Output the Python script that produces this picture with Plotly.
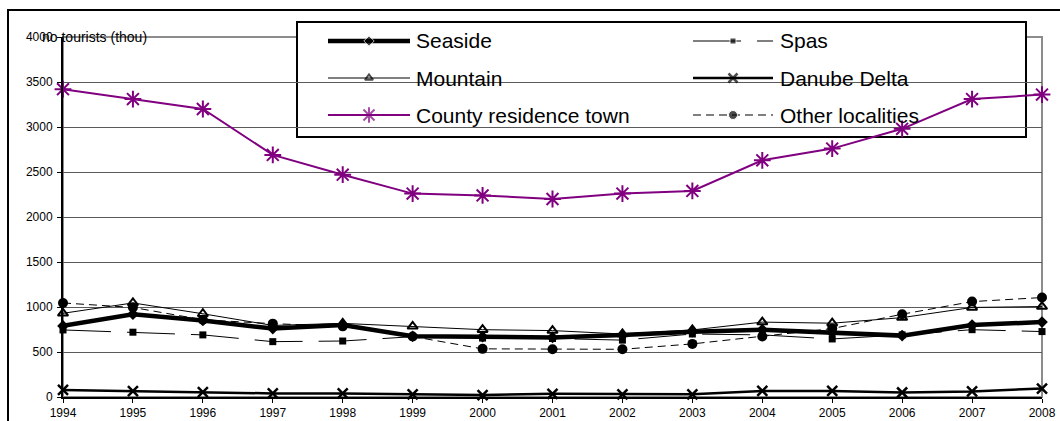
import plotly.graph_objects as go

years = list(range(1994, 2009))
year_labels = [str(y) for y in years]

seaside = [790, 920, 850, 760, 800, 675, 670, 662, 688, 725, 748, 715, 682, 800, 832]
spas = [745, 720, 690, 615, 622, 670, 655, 650, 632, 700, 690, 645, 690, 748, 727]
mountain = [930, 1045, 925, 795, 818, 785, 748, 738, 700, 745, 832, 820, 882, 995, 1005]
danube = [78, 66, 54, 40, 40, 28, 22, 36, 30, 30, 68, 68, 50, 62, 94]
county = [3420, 3310, 3200, 2690, 2470, 2260, 2240, 2200, 2260, 2290, 2630, 2760, 2980, 3310, 3360]
other = [1045, 995, 858, 815, 785, 672, 535, 530, 530, 590, 672, 760, 920, 1060, 1105]

series_names = ["Seaside", "Spas", "Mountain", "Danube Delta", "County residence town", "Other localities"]

FONT = "Arial, Liberation Sans, sans-serif"
PURPLE = "#800080"

styles = {
    "Seaside": dict(line=dict(color="black", width=4.5), marker=dict(symbol="diamond", size=9, color="black")),
    "Spas": dict(line=dict(color="black", width=1, dash="48px,16px"), marker=dict(symbol="square", size=7, color="black")),
    "Mountain": dict(line=dict(color="black", width=1), marker=dict(symbol="triangle-up-open", size=9, color="black", line=dict(width=2, color="black"))),
    "Danube Delta": dict(line=dict(color="black", width=2.5), marker=dict(symbol="x-thin-open", size=10, color="black", line=dict(width=2.5, color="black"))),
    "County residence town": dict(line=dict(color=PURPLE, width=2), marker=dict(symbol="asterisk-open", size=14, color=PURPLE, line=dict(width=2, color=PURPLE))),
    "Other localities": dict(line=dict(color="black", width=1, dash="8px,5px"), marker=dict(symbol="circle", size=10, color="black")),
}
values = {
    "Seaside": seaside, "Spas": spas, "Mountain": mountain,
    "Danube Delta": danube, "County residence town": county, "Other localities": other,
}

fig = go.Figure()
draw_order = ["Danube Delta", "Spas", "Mountain", "Other localities", "Seaside", "County residence town"]
for name in draw_order:
    st = styles[name]
    fig.add_trace(go.Scatter(x=years, y=values[name], name=name, mode="lines+markers",
                             line=st["line"], marker=st["marker"], cliponaxis=False,
                             showlegend=False))

# Pixel geometry of the plot area
L, R, T, B = 63, 1042, 37, 397
W, H = 1060, 421

def px_x(p):
    return (p - L) / (R - L)

def px_y(p):
    return (B - p) / (B - T)

# Manual legend (two columns, three rows) drawn on an overlay pixel axis
leg_cols = [(328, 369, 410, 414), (693, 733, 773, 778)]
leg_rows = [41, 78, 115]
legend_marker_size = {"Seaside": 8, "Spas": 6, "Mountain": 7, "Danube Delta": 9,
                      "County residence town": 13, "Other localities": 9}
for i, name in enumerate(series_names):
    c = leg_cols[i % 2]
    ry = leg_rows[i // 2]
    st = styles[name]
    mk = dict(st["marker"])
    mk["size"] = [0, legend_marker_size[name], 0]
    fig.add_trace(go.Scatter(x=[c[0], c[1], c[2]], y=[ry, ry, ry], mode="lines+markers",
                             line=st["line"], marker=mk, xaxis="x2", yaxis="y2",
                             showlegend=False, hoverinfo="skip", cliponaxis=False))
    fig.add_annotation(x=px_x(c[3]), y=px_y(ry), xref="paper", yref="paper", text=name,
                       showarrow=False, xanchor="left", yanchor="middle",
                       font=dict(family=FONT, size=21, color="black"))

shapes = [
    # outer chart border
    dict(type="rect", xref="paper", yref="paper", x0=px_x(8), x1=px_x(1075), y0=px_y(450), y1=px_y(10),
         line=dict(color="black", width=2), layer="below"),
    # plot area border (grey)
    dict(type="rect", xref="paper", yref="paper", x0=0, x1=1, y0=0, y1=1,
         line=dict(color="#8c8c8c", width=2), layer="below"),
    # legend box
    dict(type="rect", xref="paper", yref="paper", x0=px_x(297), x1=px_x(1026), y0=px_y(137), y1=px_y(22),
         line=dict(color="black", width=2), fillcolor="white", layer="between"),
]

fig.add_annotation(x=px_x(40), y=px_y(37), xref="paper", yref="paper", text="no tourists (thou)",
                   showarrow=False, xanchor="left", yanchor="middle",
                   font=dict(family=FONT, size=14, color="black"))

fig.update_layout(
    width=W, height=H,
    margin=dict(l=L, r=W - R, t=T, b=H - B, autoexpand=False),
    paper_bgcolor="white", plot_bgcolor="white",
    showlegend=False,
    shapes=shapes,
    font=dict(family=FONT, size=12, color="black"),
    xaxis=dict(range=[1994, 2008], tickvals=years, ticktext=year_labels, showgrid=False, zeroline=False,
               showline=True, linecolor="black", linewidth=2, ticks="outside", ticklen=4,
               tickcolor="black", tickfont=dict(family=FONT, size=12, color="black"), automargin=False),
    yaxis=dict(range=[0, 4000], dtick=500, showgrid=True, gridcolor="#5a5a5a", gridwidth=1,
               zeroline=False, showline=True, linecolor="black", linewidth=2, ticks="outside",
               ticklen=4, tickcolor="black", tickfont=dict(family=FONT, size=12, color="black"),
               automargin=False, ticklabelstandoff=2),
    xaxis2=dict(overlaying="x", anchor="y2", range=[L, R], visible=False, automargin=False),
    yaxis2=dict(overlaying="y", anchor="x2", range=[B, T], visible=False, automargin=False),
)

fig.write_html("out.html", post_script="document.body.style.margin='0px';",
               config={"displayModeBar": False})
